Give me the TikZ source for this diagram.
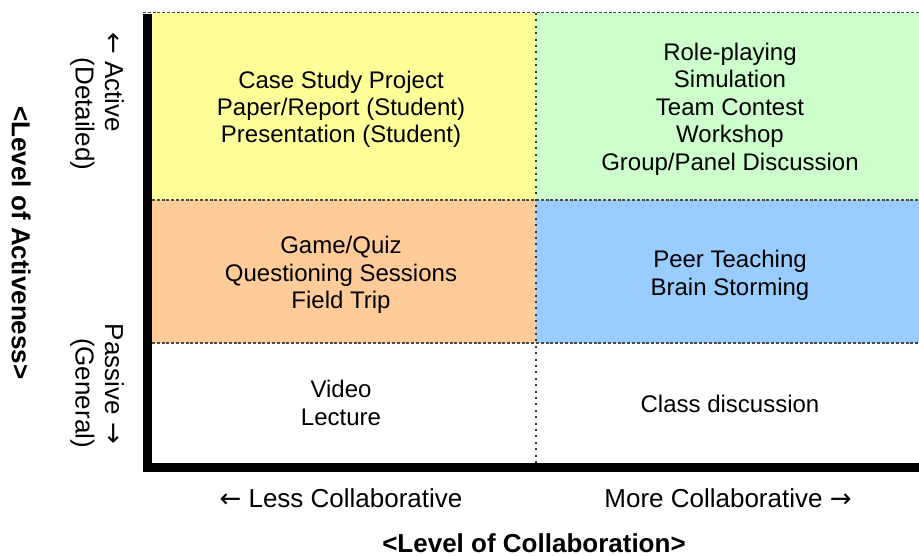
\documentclass[tikz,border=0pt]{standalone}
\usepackage{fontspec}
\setmainfont{Liberation Sans}
\newfontfamily\arrowfont{DejaVu Sans}
\newcommand{\qleft}{{\arrowfont ←}}
\newcommand{\qright}{{\arrowfont →}}
\definecolor{qyellow}{HTML}{FFFF99}
\definecolor{qgreen}{HTML}{CCFFCC}
\definecolor{qorange}{HTML}{FFCC99}
\definecolor{qblue}{HTML}{99CCFF}
\definecolor{sepgray}{HTML}{4A4A4A}
\begin{document}
\begin{tikzpicture}[x=1pt,y=-1pt,
  cell/.style={anchor=base, inner sep=0pt, font=\fontsize{24}{28}\selectfont},
  axlab/.style={anchor=base, inner sep=0pt, font=\fontsize{26}{30}\selectfont},
  axtitle/.style={anchor=base, inner sep=0pt, font=\fontsize{26}{30}\selectfont\bfseries},
  sepline/.style={draw=sepgray, line width=1.2pt, dash pattern=on 3pt off 1.8pt},
  dotline/.style={draw=black!80, line width=2.2pt, dash pattern=on 2pt off 4.4pt},
  axisline/.style={draw=black, line width=9pt, line join=miter}]
\useasboundingbox (0,0) rectangle (919,556);
% quadrant fills
\fill[qyellow] (152,13) rectangle (536,200);
\fill[qgreen]  (536,13) rectangle (919,200);
\fill[qorange] (152,200) rectangle (536,343);
\fill[qblue]   (536,200) rectangle (919,343);
% separators
\draw[sepline] (143,12.5) -- (919,12.5);
\draw[sepline] (152,200) -- (919,200);
\draw[sepline] (152,343) -- (919,343);
\draw[dotline] (536,13) -- (536,463);
% axes
\draw[axisline] (147.5,14) -- (147.5,467.5) -- (919,467.5);
% yellow cell
\node[cell] (y1) at (341,88.5) {Case Study Project};
\node[cell] (y2) at (341,115.5) {Paper/Report (Student)};
\node[cell] (y3) at (341,142.5) {Presentation (Student)};
% green cell
\node[cell] (g1) at (730,60.5) {Role-playing};
\node[cell] (g2) at (730,87.5) {Simulation};
\node[cell] (g3) at (730,115.5) {Team Contest};
\node[cell] (g4) at (730,142.5) {Workshop};
\node[cell] (g5) at (730,170.5) {Group/Panel Discussion};
% orange cell
\node[cell] (o1) at (341,253.5) {Game/Quiz};
\node[cell] (o2) at (341,281.5) {Questioning Sessions};
\node[cell] (o3) at (341,308.5) {Field Trip};
% blue cell
\node[cell] (b1) at (730,267.5) {Peer Teaching};
\node[cell] (b2) at (730,295.5) {Brain Storming};
% white cells
\node[cell] (w1) at (341,397.5) {Video};
\node[cell] (w2) at (341,425.5) {Lecture};
\node[cell] (w3) at (730,412.5) {Class discussion};
% vertical axis labels
\node[axlab, rotate=-90] (act) at (105,82) {\qleft\ Active};
\node[axlab, rotate=-90] (det) at (75.5,114) {(Detailed)};
\node[axlab, rotate=-90] (pas) at (105,384) {Passive \qright};
\node[axlab, rotate=-90] (gen) at (75.5,393) {(General)};
\node[axtitle, rotate=-90] (vt) at (12,243) {<Level of Activeness>};
% horizontal axis labels
\node[axlab] (less) at (341,507) {\qleft\ Less Collaborative};
\node[axlab] (more) at (728,507) {More Collaborative \qright};
\node[axtitle] (ht) at (534,552) {<Level of Collaboration>};
\end{tikzpicture}
\end{document}
